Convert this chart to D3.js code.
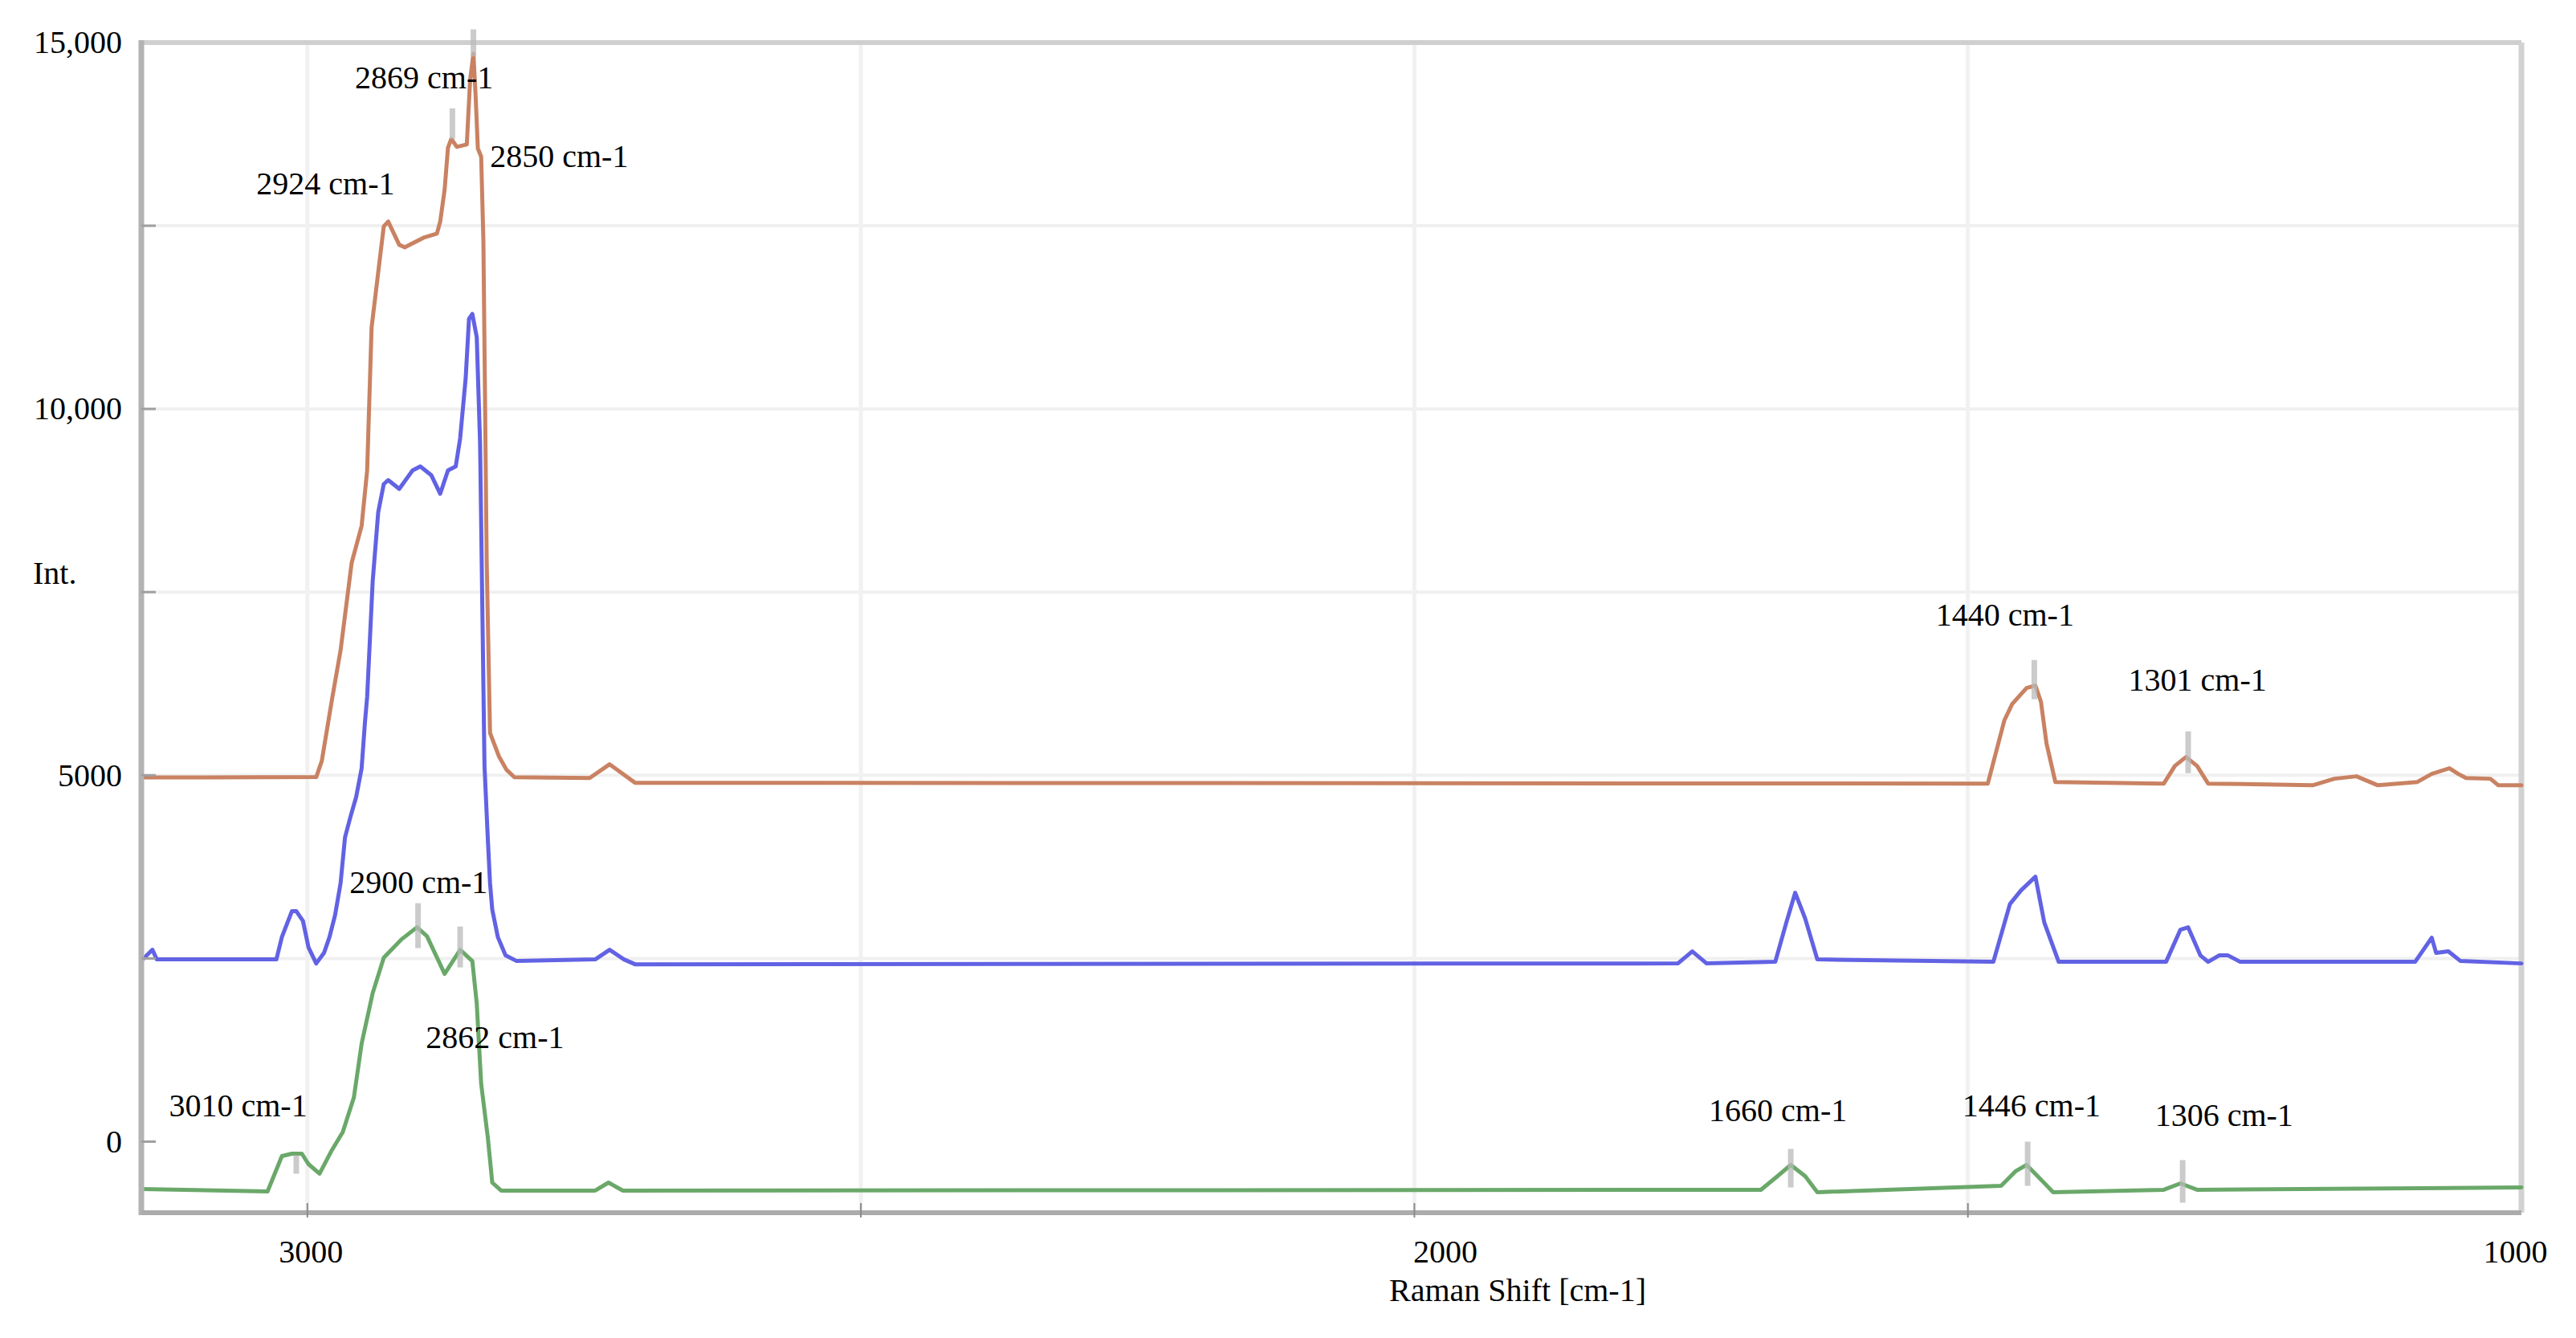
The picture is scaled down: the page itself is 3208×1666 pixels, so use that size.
<!DOCTYPE html>
<html><head><meta charset="utf-8">
<script src="https://cdn.jsdelivr.net/npm/d3@7"></script>
<style>body{margin:0;background:#fff}svg{display:block}</style>
</head><body>
<svg id="chart" width="3208" height="1666"></svg>
<script>
// ---- data ----
const xTickValues = [3000, 2000, 1000];
const xTickLabels = ["3000", "2000", "1000"];
const xGridValues = [3000, 2500, 2000, 1500];
const yTickValues = [0, 5000, 10000, 15000];
const yTickLabels = ["0", "5000", "10,000", "15,000"];
const yGridValues = [2500, 5000, 7500, 10000, 12500];
const xAxisTitle = "Raman Shift [cm-1]";
const yAxisTitle = "Int.";

const orangeSeries = [[3150,4970],[2992,4975],[2987,5194],[2978,6015],[2970,6706],[2960,7900],[2951,8404],[2946,9160],[2942,11110],[2936,11866],[2931,12491],[2927,12557],[2917,12239],[2912,12206],[2895,12337],[2883,12392],[2880,12557],[2876,12995],[2873,13565],[2870,13685],[2865,13576],[2856,13609],[2853,14485],[2850,14850],[2848,14266],[2846,13554],[2843,13444],[2841,12294],[2838,7911],[2835,5577],[2827,5259],[2820,5073],[2813,4974],[2745,4963],[2727,5150],[2704,4898],[1482,4887],[1467,5752],[1460,5972],[1447,6191],[1439,6224],[1434,6004],[1429,5435],[1421,4909],[1323,4887],[1313,5128],[1303,5249],[1293,5128],[1283,4887],[1188,4865],[1169,4953],[1149,4986],[1130,4865],[1094,4909],[1081,5019],[1065,5096],[1057,5019],[1050,4963],[1028,4953],[1021,4865],[1000,4865]];

const blueSeries = [[3150,2470],[3140,2619],[3136,2487],[3028,2487],[3023,2794],[3014,3145],[3010,3145],[3004,3013],[2999,2652],[2992,2432],[2985,2575],[2980,2794],[2975,3090],[2970,3528],[2966,4153],[2961,4438],[2956,4700],[2951,5095],[2948,5720],[2946,6070],[2941,7648],[2936,8590],[2931,8974],[2927,9029],[2917,8908],[2905,9160],[2898,9215],[2888,9094],[2880,8842],[2873,9160],[2866,9215],[2862,9598],[2857,10420],[2854,11231],[2851,11297],[2847,10979],[2844,9533],[2842,7330],[2840,5128],[2837,4131],[2835,3528],[2833,3167],[2828,2794],[2821,2542],[2811,2465],[2740,2487],[2727,2619],[2714,2487],[2704,2421],[1762,2432],[1749,2597],[1736,2432],[1674,2454],[1664,2991],[1656,3397],[1647,3046],[1636,2487],[1477,2454],[1462,3243],[1452,3430],[1439,3616],[1431,2991],[1418,2454],[1321,2454],[1308,2893],[1301,2925],[1290,2542],[1283,2454],[1273,2542],[1265,2542],[1254,2454],[1096,2454],[1081,2783],[1077,2575],[1066,2597],[1055,2465],[1000,2432]];

const greenSeries = [[3150,-646],[3036,-679],[3023,-197],[3014,-164],[3005,-164],[2999,-307],[2989,-438],[2978,-120],[2968,131],[2958,603],[2951,1337],[2941,2027],[2931,2509],[2915,2761],[2901,2925],[2892,2805],[2876,2290],[2862,2619],[2851,2465],[2847,1885],[2843,789],[2837,55],[2833,-559],[2825,-668],[2740,-668],[2728,-559],[2715,-668],[1687,-657],[1672,-471],[1660,-318],[1647,-471],[1636,-690],[1470,-603],[1457,-405],[1447,-318],[1437,-471],[1423,-690],[1323,-657],[1308,-570],[1293,-657],[1000,-625]];

const peakLabelText = ["2869 cm-1","2850 cm-1","2924 cm-1","2900 cm-1","2862 cm-1","3010 cm-1","1440 cm-1","1301 cm-1","1660 cm-1","1446 cm-1","1306 cm-1"];
const peakLabelShift = [2957, 2835, 3046, 2962, 2893, 3125, 1529, 1355, 1734, 1505, 1331];
const peakLabelInt = [14376, 13302, 12929, 3397, 1282, 340, 7045, 6158, 285, 340, 219];

const markerShift = [2850, 2869, 3010, 2900, 2862, 1440, 1301, 1660, 1446, 1306];
const markerLow = [14810, 13685, -438, 2641, 2378, 6037, 5029, -625, -603, -833];
const markerHigh = [15180, 14102, -186, 3254, 2936, 6574, 5599, -99, 0, -252];

// ---- chart ----
const svg = d3.select("#chart");
const pLeft = 176, pRight = 3140, pTop = 53, pBottom = 1510;
const x = d3.scaleLinear().domain([3150, 1000]).range([pLeft, pRight]);
const y = d3.scaleLinear().domain([-970, 15000]).range([pBottom, pTop]);
const font = "'Liberation Serif', 'Times New Roman', serif";

svg.append("rect").attr("width", 3208).attr("height", 1666).attr("fill", "#fff");

// gridlines
svg.append("g").selectAll("line").data(yGridValues).join("line")
  .attr("x1", pLeft).attr("x2", pRight).attr("y1", d => y(d)).attr("y2", d => y(d))
  .attr("stroke", "#f0f0f0").attr("stroke-width", 4);
svg.append("g").selectAll("line").data(xGridValues).join("line")
  .attr("y1", pTop).attr("y2", pBottom).attr("x1", d => x(d)).attr("x2", d => x(d))
  .attr("stroke", "#f1f1f1").attr("stroke-width", 5);

// frame
svg.append("line").attr("x1", pLeft).attr("x2", pRight).attr("y1", pTop).attr("y2", pTop)
  .attr("stroke", "#cfcfcf").attr("stroke-width", 6);
svg.append("line").attr("x1", pRight).attr("x2", pRight).attr("y1", pTop).attr("y2", pBottom)
  .attr("stroke", "#d2d2d2").attr("stroke-width", 7);

// series
const line = d3.line().x(d => x(d[0])).y(d => y(d[1]));
const series = [
  {data: greenSeries, color: "#6aa86a"},
  {data: blueSeries, color: "#6262e4"},
  {data: orangeSeries, color: "#c98262"}
];
svg.append("g").selectAll("path").data(series).join("path")
  .attr("d", d => line(d.data)).attr("fill", "none")
  .attr("stroke", d => d.color).attr("stroke-width", 5)
  .attr("stroke-linejoin", "round").attr("stroke-linecap", "round");

// peak markers
svg.append("g").selectAll("line").data(markerShift).join("line")
  .attr("x1", d => x(d)).attr("x2", d => x(d))
  .attr("y1", (d, i) => y(markerLow[i])).attr("y2", (d, i) => y(markerHigh[i]))
  .attr("stroke", "#b9b9b9").attr("stroke-opacity", 0.75).attr("stroke-width", 7);

// axes lines
svg.append("line").attr("x1", pLeft).attr("x2", pLeft).attr("y1", pTop - 3).attr("y2", pBottom + 3)
  .attr("stroke", "#b3b3b3").attr("stroke-width", 7);
svg.append("line").attr("x1", pLeft).attr("x2", pRight).attr("y1", pBottom).attr("y2", pBottom)
  .attr("stroke", "#ababab").attr("stroke-width", 6);

// x axis ticks & labels
const xAxis = d3.axisBottom(x).tickValues(xTickValues)
  .tickFormat((d, i) => xTickLabels[i]).tickSize(0).tickPadding(34);
const gx = svg.append("g").attr("transform", `translate(0,${pBottom})`).call(xAxis);
gx.select(".domain").remove();
gx.selectAll("text").attr("font-family", font).attr("font-size", 40).attr("fill", "#000")
  .attr("dx", d => d === 2000 ? 38 : (d === 1000 ? -8 : 4));
svg.append("g").selectAll("line").data(xGridValues).join("line")
  .attr("x1", d => x(d)).attr("x2", d => x(d)).attr("y1", pBottom - 12).attr("y2", pBottom + 6)
  .attr("stroke", "#8a8a8a").attr("stroke-width", 2);

// y axis ticks & labels
const yAxis = d3.axisLeft(y).tickValues(yTickValues)
  .tickFormat((d, i) => yTickLabels[i]).tickSize(0).tickPadding(24);
const gy = svg.append("g").attr("transform", `translate(${pLeft},0)`).call(yAxis);
gy.select(".domain").remove();
gy.selectAll("text").attr("font-family", font).attr("font-size", 40).attr("fill", "#000");
svg.append("g").selectAll("line").data([0, 2500, 5000, 7500, 10000, 12500]).join("line")
  .attr("x1", pLeft).attr("x2", pLeft + 18).attr("y1", d => y(d)).attr("y2", d => y(d))
  .attr("stroke", "#a0a0a0").attr("stroke-width", 3);

// titles
svg.append("text").attr("x", 41).attr("y", 727).text(yAxisTitle)
  .attr("font-family", font).attr("font-size", 40).attr("fill", "#000");
svg.append("text").attr("x", 1890).attr("y", 1620).attr("text-anchor", "middle").text(xAxisTitle)
  .attr("font-family", font).attr("font-size", 40).attr("fill", "#000");

// peak labels
svg.append("g").selectAll("text").data(peakLabelText).join("text")
  .attr("x", (d, i) => x(peakLabelShift[i])).attr("y", (d, i) => y(peakLabelInt[i]))
  .text(d => d).attr("font-family", font).attr("font-size", 40).attr("fill", "#000");
</script>
</body></html>
